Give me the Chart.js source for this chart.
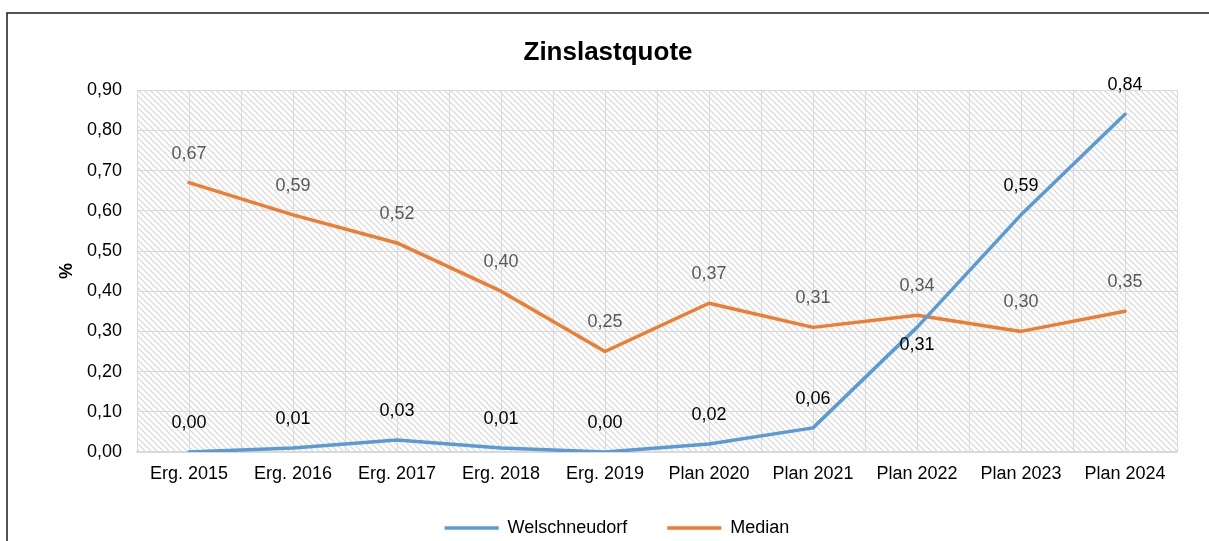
<!DOCTYPE html>
<html lang="de">
<head>
<meta charset="UTF-8">
<title>Zinslastquote</title>
<script src="https://cdn.jsdelivr.net/npm/chart.js"></script>
<style>
  html, body { margin: 0; padding: 0; background: #fff; }
  #wrap { width: 1209px; height: 541px; }
</style>
</head>
<body>
<div id="wrap"><canvas id="zinsChart"></canvas></div>
<script>
const categories = ['Erg. 2015', 'Erg. 2016', 'Erg. 2017', 'Erg. 2018', 'Erg. 2019',
                    'Plan 2020', 'Plan 2021', 'Plan 2022', 'Plan 2023', 'Plan 2024'];
const welschneudorf = [0.00, 0.01, 0.03, 0.01, 0.00, 0.02, 0.06, 0.31, 0.59, 0.84];
const median = [0.67, 0.59, 0.52, 0.40, 0.25, 0.37, 0.31, 0.34, 0.30, 0.35];
const yTickLabels = ['0,00', '0,10', '0,20', '0,30', '0,40', '0,50', '0,60', '0,70', '0,80', '0,90'];

const FONT = 'Liberation Sans, Arial, sans-serif';
const fmt = v => v.toFixed(2).replace('.', ',');

// diagonal hatch for the plot area
function makeHatch() {
    const c = document.createElement('canvas');
    c.width = 6; c.height = 6;
    const g = c.getContext('2d');
    g.fillStyle = '#fff';
    g.fillRect(0, 0, 6, 6);
    g.strokeStyle = '#dcdcdc';
    g.lineWidth = 1.3;
    g.beginPath();
    g.moveTo(-1, -1); g.lineTo(7, 7);
    g.moveTo(-1, 5); g.lineTo(1, 7);
    g.moveTo(5, -1); g.lineTo(7, 1);
    g.stroke();
    return g.createPattern(c, 'repeat');
}

const background = {
    id: 'background',
    beforeDraw(chart) {
        const {ctx, chartArea: a} = chart;
        ctx.save();
        ctx.fillStyle = '#fff';
        ctx.fillRect(0, 0, chart.width, chart.height);
        ctx.fillStyle = makeHatch();
        ctx.fillRect(a.left, a.top, a.right - a.left, a.bottom - a.top);
        ctx.strokeStyle = '#1a1a1a';
        ctx.lineWidth = 1.5;
        ctx.strokeRect(7, 13, chart.width + 20, chart.height + 20);
        ctx.restore();
    }
};

// nudge the legend a little right and up
const legendShift = {
    id: 'legendShift',
    afterLayout(chart) {
        const l = chart.legend;
        l.left += 9; l.right += 9;
        l.top -= 9; l.bottom -= 9;
    }
};

const valueLabels = {
    id: 'valueLabels',
    afterDatasetsDraw(chart) {
        const ctx = chart.ctx;
        ctx.save();
        ctx.font = '18px ' + FONT;
        ctx.textAlign = 'center';
        ctx.textBaseline = 'middle';
        chart.data.datasets.forEach((ds, di) => {
            const meta = chart.getDatasetMeta(di);
            meta.data.forEach((pt, i) => {
                // blue label at Plan 2022 sits below the line
                const below = di === 0 && i === 7;
                ctx.fillStyle = di === 0 ? '#000' : '#595959';
                ctx.fillText(fmt(ds.data[i]), pt.x, pt.y + (below ? 18 : -29));
            });
        });
        ctx.restore();
    }
};

new Chart(document.getElementById('zinsChart'), {
    type: 'line',
    data: {
        labels: categories,
        datasets: [{
            label: 'Welschneudorf',
            data: welschneudorf,
            borderColor: '#5b9bd5',
            backgroundColor: '#5b9bd5',
            borderWidth: 3.5,
            borderCapStyle: 'round',
            borderJoinStyle: 'round',
            pointRadius: 0,
            fill: false,
            xAxisID: 'x',
            yAxisID: 'y'
        }, {
            label: 'Median',
            data: median,
            borderColor: '#ed7d31',
            backgroundColor: '#ed7d31',
            borderWidth: 3.5,
            borderCapStyle: 'round',
            borderJoinStyle: 'round',
            pointRadius: 0,
            fill: false,
            xAxisID: 'x',
            yAxisID: 'y'
        }]
    },
    options: {
        responsive: true,
        maintainAspectRatio: false,
        animation: false,
        layout: { padding: { top: 0, left: 7, right: 0, bottom: -15 } },
        plugins: {
            title: {
                display: true,
                text: 'Zinslastquote',
                color: '#000',
                font: { family: FONT, size: 26, weight: 'bold' },
                padding: { top: 37, bottom: 22 }
            },
            legend: {
                position: 'bottom',
                labels: {
                    color: '#000',
                    font: { family: FONT, size: 18 },
                    usePointStyle: true,
                    pointStyle: 'line',
                    pointStyleWidth: 54,
                    padding: 40
                }
            },
            tooltip: { enabled: false }
        },
        scales: {
            x: {
                type: 'category',
                offset: true,
                grid: { display: false, drawTicks: false },
                border: { color: '#d9d9d9', width: 1.5 },
                ticks: { color: '#000', font: { family: FONT, size: 18 }, padding: 11, maxRotation: 0 },
                afterFit(s) { s.height = 36; }
            },
            xg: {
                type: 'linear',
                position: 'bottom',
                min: -0.5,
                max: 9.5,
                ticks: { display: false, stepSize: 0.5 },
                grid: { color: '#d9d9d9', lineWidth: 1, drawTicks: false },
                border: { display: false },
                afterFit(s) { s.height = 0; }
            },
            y: {
                min: 0,
                max: 0.9,
                ticks: {
                    stepSize: 0.1,
                    color: '#000',
                    font: { family: FONT, size: 18 },
                    padding: 15,
                    callback: (v, i) => yTickLabels[i]
                },
                grid: { color: '#d9d9d9', lineWidth: 1, drawTicks: false },
                border: { color: '#d9d9d9' },
                title: {
                    display: true,
                    text: '%',
                    color: '#000',
                    font: { family: FONT, size: 18, weight: 'bold' },
                    padding: { top: 49 }
                },
                afterFit(s) { s.width = 130; }
            },
            yr: {
                type: 'linear',
                position: 'right',
                grid: { display: false },
                border: { display: false },
                ticks: { display: false },
                afterFit(s) { s.width = 32; }
            }
        }
    },
    plugins: [background, legendShift, valueLabels]
});
</script>
</body>
</html>
